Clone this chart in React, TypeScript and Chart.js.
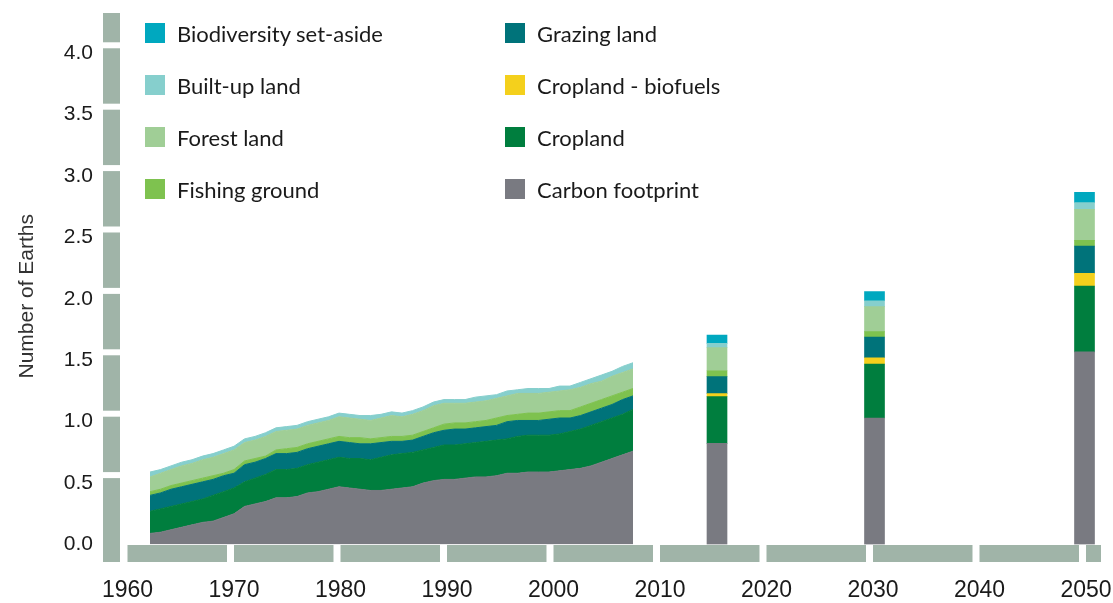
import React, { useEffect, useRef } from 'react';
import { Chart, registerables } from 'chart.js';

Chart.register(...registerables);

// ---------- Data ----------
const years = [
  1961, 1962, 1963, 1964, 1965, 1966, 1967, 1968, 1969, 1970,
  1971, 1972, 1973, 1974, 1975, 1976, 1977, 1978, 1979, 1980,
  1981, 1982, 1983, 1984, 1985, 1986, 1987, 1988, 1989, 1990,
  1991, 1992, 1993, 1994, 1995, 1996, 1997, 1998, 1999, 2000,
  2001, 2002, 2003, 2004, 2005, 2006, 2007,
];
const carbon = [
  0.09, 0.10, 0.12, 0.14, 0.16, 0.18, 0.19, 0.22, 0.25, 0.31,
  0.33, 0.35, 0.38, 0.38, 0.39, 0.42, 0.43, 0.45, 0.47, 0.46,
  0.45, 0.44, 0.44, 0.45, 0.46, 0.47, 0.50, 0.52, 0.53, 0.53,
  0.54, 0.55, 0.55, 0.56, 0.58, 0.58, 0.59, 0.59, 0.59, 0.60,
  0.61, 0.62, 0.64, 0.67, 0.70, 0.73, 0.76,
];
const cropland = [
  0.18, 0.19, 0.19, 0.19, 0.19, 0.19, 0.21, 0.21, 0.21, 0.20,
  0.21, 0.22, 0.23, 0.23, 0.23, 0.23, 0.24, 0.24, 0.24, 0.24,
  0.25, 0.25, 0.27, 0.28, 0.28, 0.28, 0.27, 0.27, 0.28, 0.28,
  0.28, 0.28, 0.29, 0.29, 0.28, 0.30, 0.30, 0.30, 0.30, 0.30,
  0.31, 0.32, 0.33, 0.33, 0.33, 0.33, 0.34,
];
const grazing = [
  0.13, 0.13, 0.14, 0.14, 0.14, 0.14, 0.13, 0.13, 0.12, 0.14,
  0.13, 0.13, 0.13, 0.13, 0.13, 0.13, 0.13, 0.13, 0.13, 0.13,
  0.12, 0.13, 0.12, 0.11, 0.10, 0.10, 0.11, 0.12, 0.12, 0.13,
  0.12, 0.12, 0.12, 0.12, 0.14, 0.13, 0.12, 0.12, 0.13, 0.13,
  0.11, 0.11, 0.11, 0.11, 0.11, 0.12, 0.11,
];
const fishing = [
  0.03, 0.03, 0.03, 0.03, 0.03, 0.03, 0.03, 0.02, 0.03, 0.03,
  0.03, 0.02, 0.03, 0.04, 0.04, 0.04, 0.04, 0.04, 0.04, 0.04,
  0.05, 0.04, 0.04, 0.04, 0.04, 0.04, 0.04, 0.04, 0.05, 0.05,
  0.05, 0.05, 0.05, 0.06, 0.05, 0.05, 0.06, 0.06, 0.06, 0.06,
  0.06, 0.07, 0.07, 0.07, 0.07, 0.06, 0.06,
];
const forest = [
  0.12, 0.13, 0.13, 0.14, 0.14, 0.15, 0.15, 0.16, 0.16, 0.15,
  0.15, 0.16, 0.15, 0.15, 0.15, 0.15, 0.15, 0.15, 0.16, 0.16,
  0.15, 0.15, 0.16, 0.17, 0.16, 0.17, 0.17, 0.18, 0.17, 0.16,
  0.16, 0.16, 0.16, 0.16, 0.16, 0.17, 0.16, 0.16, 0.16, 0.16,
  0.17, 0.16, 0.16, 0.15, 0.16, 0.16, 0.16,
];
const builtUp = [
  0.04, 0.03, 0.03, 0.03, 0.03, 0.03, 0.03, 0.03, 0.03, 0.03,
  0.03, 0.03, 0.03, 0.03, 0.03, 0.03, 0.03, 0.03, 0.03, 0.03,
  0.03, 0.04, 0.03, 0.03, 0.03, 0.03, 0.03, 0.03, 0.03, 0.03,
  0.03, 0.04, 0.04, 0.03, 0.04, 0.03, 0.04, 0.04, 0.03, 0.04,
  0.03, 0.04, 0.04, 0.05, 0.04, 0.05, 0.05,
];

// Scenario bars
const scenarioYears = [2015, 2030, 2050];
const scCarbon = [0.824, 1.03, 1.568];
const scCropland = [0.38, 0.44, 0.537];
const scBiofuels = [0.024, 0.051, 0.103];
const scGrazing = [0.139, 0.169, 0.223];
const scFishing = [0.048, 0.043, 0.046];
const scForest = [0.188, 0.204, 0.253];
const scBuiltUp = [0.035, 0.048, 0.054];
const scBiodiversity = [0.068, 0.074, 0.084];

const xTickYears = [1960, 1970, 1980, 1990, 2000, 2010, 2020, 2030, 2040, 2050];
const yTickValues = [0, 0.5, 1, 1.5, 2, 2.5, 3, 3.5, 4];

const legendLabels = [
  'Biodiversity set-aside', 'Built-up land', 'Forest land', 'Fishing ground',
  'Grazing land', 'Cropland - biofuels', 'Cropland', 'Carbon footprint',
];

// ---------- Styles ----------
const COLORS: Record<string, string> = {
  'Biodiversity set-aside': '#00a8bf',
  'Built-up land': '#86cfcd',
  'Forest land': '#a0ce96',
  'Fishing ground': '#7ec24f',
  'Grazing land': '#00737a',
  'Cropland - biofuels': '#f4d01c',
  'Cropland': '#007e3e',
  'Carbon footprint': '#797a81',
};
const AXIS_BAR = '#a0b4a8';

const axisBarsPlugin = {
  id: 'axisBars',
  afterDraw(chart: any) {
    const { ctx, chartArea } = chart;
    const xd = chart.scales.xd;
    const y = chart.scales.y;
    ctx.save();
    ctx.fillStyle = AXIS_BAR;
    const barTop = chartArea.bottom + 0.5;
    const barH = 17;
    xTickYears.forEach((d, i) => {
      const x0 = xd.getPixelForValue(d);
      const x1 = i < xTickYears.length - 1 ? xd.getPixelForValue(xTickYears[i + 1]) - 7 : chartArea.right;
      ctx.fillRect(x0, barTop, x1 - x0, barH);
    });
    const yx0 = chartArea.left - 19;
    const yw = 17;
    const gaps = yTickValues
      .filter((v) => v > 0)
      .map((v) => y.getPixelForValue(v) - 8)
      .sort((a, b) => a - b);
    let top = chartArea.top;
    gaps.forEach((g) => {
      ctx.fillRect(yx0, top, yw, g - 3 - top);
      top = g + 3;
    });
    ctx.fillRect(yx0, top, yw, barTop + barH - top);
    ctx.restore();
  },
};

function zeroPadding(scale: any) {
  scale.paddingTop = 0;
  scale.paddingBottom = 0;
  scale.paddingLeft = 0;
  scale.paddingRight = 0;
}

function lineDs(label: string, values: number[], fill: any) {
  return {
    type: 'line' as const,
    label,
    data: years.map((x, i) => ({ x, y: values[i] })),
    backgroundColor: COLORS[label],
    borderColor: COLORS[label],
    borderWidth: 1,
    pointRadius: 0,
    fill,
    tension: 0,
    stack: 'hist',
    xAxisID: 'x',
    yAxisID: 'y',
  };
}

function barDs(label: string, values: number[]) {
  return {
    type: 'bar' as const,
    label,
    data: scenarioYears.map((x, i) => ({ x, y: values[i] })),
    backgroundColor: COLORS[label],
    borderWidth: 0,
    barThickness: 20,
    grouped: false,
    stack: 'scen',
    xAxisID: 'x',
    yAxisID: 'y',
  };
}

export default function App() {
  const canvasRef = useRef<HTMLCanvasElement>(null);

  useEffect(() => {
    if (!canvasRef.current) return;
    const chart = new Chart(canvasRef.current, {
      type: 'line',
      data: {
        datasets: [
          lineDs('Carbon footprint', carbon, 'origin'),
          lineDs('Cropland', cropland, '-1'),
          lineDs('Grazing land', grazing, '-1'),
          lineDs('Fishing ground', fishing, '-1'),
          lineDs('Forest land', forest, '-1'),
          lineDs('Built-up land', builtUp, '-1'),
          barDs('Carbon footprint', scCarbon),
          barDs('Cropland', scCropland),
          barDs('Cropland - biofuels', scBiofuels),
          barDs('Grazing land', scGrazing),
          barDs('Fishing ground', scFishing),
          barDs('Forest land', scForest),
          barDs('Built-up land', scBuiltUp),
          barDs('Biodiversity set-aside', scBiodiversity),
        ] as any,
      },
      options: {
        responsive: false,
        animation: false,
        devicePixelRatio: 1,
        layout: { padding: { top: 13, right: 12, bottom: 0, left: 0 } },
        plugins: {
          legend: { display: false },
          tooltip: { enabled: false },
        },
        events: [],
        scales: {
          x: {
            type: 'linear',
            display: false,
            min: 1958.333,
            max: 2051.571,
            offset: false,
          },
          xd: {
            type: 'linear',
            position: 'bottom',
            min: 1959.484,
            max: 2051.409,
            offset: false,
            grid: { display: false, drawTicks: false },
            border: { display: false },
            ticks: {
              stepSize: 10,
              includeBounds: false,
              autoSkip: false,
              maxRotation: 0,
              padding: 32,
              color: '#1a1a1a',
              font: { family: '"Liberation Sans Narrow", "Liberation Sans", Arial, sans-serif', size: 23 },
              callback: (v: any) => (xTickYears.includes(Number(v)) ? String(v) : ''),
            },
            afterFit: (scale: any) => {
              scale.height = 58.5;
              zeroPadding(scale);
            },
          },
          y: {
            type: 'linear',
            stacked: true,
            min: 0,
            max: 4.328,
            grid: { display: false, drawTicks: false },
            border: { display: false },
            ticks: {
              stepSize: 0.5,
              includeBounds: false,
              padding: 29,
              color: '#1a1a1a',
              font: { family: '"Liberation Sans", Arial, sans-serif', size: 21 },
              callback: (v: any) => (yTickValues.includes(Number(v)) ? Number(v).toFixed(1) : ''),
            },
            title: {
              display: true,
              text: 'Number of Earths      ',
              color: '#333333',
              font: { family: '"Liberation Sans", Arial, sans-serif', size: 21, weight: 'normal' },
              padding: { top: 15, bottom: 0 },
            },
            afterFit: (scale: any) => {
              scale.width = 122;
              zeroPadding(scale);
            },
          },
        },
      } as any,
      plugins: [axisBarsPlugin],
    });
    return () => chart.destroy();
  }, []);

  return (
    <div style={{ position: 'fixed', left: 0, top: 0, width: 1113, height: 603, background: '#fff' }}>
      <canvas ref={canvasRef} width={1113} height={603} style={{ display: 'block' }} />
      {legendLabels.map((label, i) => {
        const col = i < 4 ? 0 : 1;
        const row = i % 4;
        return (
          <div
            key={label}
            style={{
              position: 'absolute',
              left: col === 0 ? 145 : 505,
              top: 23 + row * 52,
              height: 20,
              display: 'flex',
              alignItems: 'center',
              whiteSpace: 'nowrap',
            }}
          >
            <span style={{ display: 'inline-block', width: 20, height: 20, background: COLORS[label] }} />
            <span
              style={{
                marginLeft: 12,
                fontFamily: 'Lato, "Open Sans", sans-serif',
                fontSize: 22,
                lineHeight: '20px',
                color: '#1a1a1a',
                position: 'relative',
                top: 1,
              }}
            >
              {label}
            </span>
          </div>
        );
      })}
    </div>
  );
}
